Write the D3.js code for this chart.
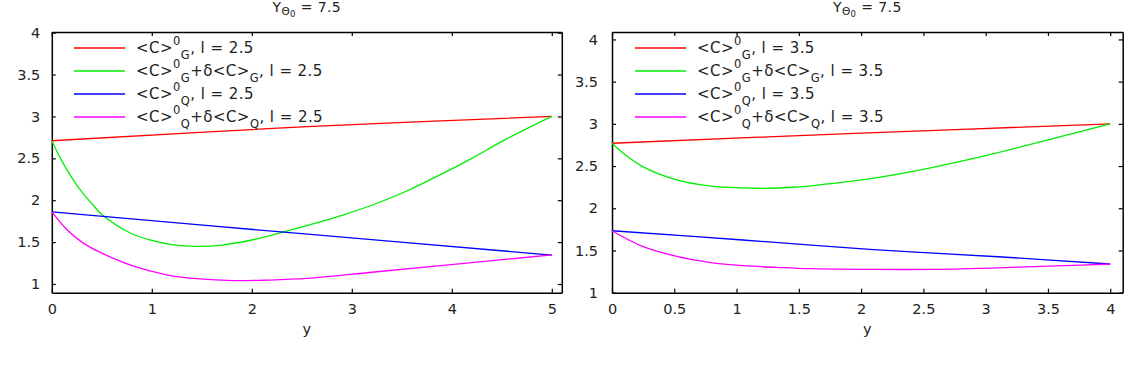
<!DOCTYPE html>
<html><head><meta charset="utf-8">
<script src="https://cdn.jsdelivr.net/npm/d3@7"></script>
<style>
body{margin:0;background:#fff}
text{font-family:"DejaVu Sans",sans-serif;fill:#222}
</style>
</head><body>
<svg id="c" width="1139" height="386"></svg>
<script>
// ---------- data: left panel (l = 2.5) ----------
const leftRedX = [0, 2.5, 5];
const leftRedY = [2.71, 2.875, 3.0];
const leftGreenX = [0, 0.1, 0.2, 0.3, 0.4, 0.5, 0.8, 1.0, 1.2, 1.45, 1.7, 2.0, 2.3, 2.53, 2.9, 3.2, 3.55, 3.86, 4.2, 4.53, 5];
const leftGreenY = [2.71, 2.47, 2.27, 2.10, 1.96, 1.83, 1.60, 1.52, 1.47, 1.45, 1.465, 1.525, 1.615, 1.69, 1.82, 1.94, 2.11, 2.29, 2.50, 2.72, 3.0];
const leftBlueX = [0, 2.5, 5];
const leftBlueY = [1.86, 1.60, 1.345];
const leftMagX = [0, 0.15, 0.3, 0.48, 0.81, 1.15, 1.48, 1.81, 2.15, 2.55, 3.2, 3.86, 4.53, 5];
const leftMagY = [1.86, 1.65, 1.50, 1.38, 1.216, 1.11, 1.06, 1.04, 1.046, 1.066, 1.14, 1.216, 1.293, 1.347];

// ---------- data: right panel (l = 3.5) ----------
const rightRedX = [0, 2, 4];
const rightRedY = [2.77, 2.89, 3.0];
const rightGreenX = [0, 0.1, 0.25, 0.52, 0.78, 1.16, 1.46, 1.73, 2.05, 2.51, 2.99, 3.5, 4];
const rightGreenY = [2.77, 2.64, 2.49, 2.336, 2.265, 2.237, 2.249, 2.288, 2.346, 2.465, 2.62, 2.81, 3.0];
const rightBlueX = [0, 1.05, 2.07, 3.1, 4];
const rightBlueY = [1.734, 1.624, 1.513, 1.426, 1.34];
const rightMagX = [0, 0.25, 0.52, 0.78, 1.05, 1.32, 1.59, 2.07, 2.56, 3.1, 3.63, 4];
const rightMagY = [1.734, 1.545, 1.43, 1.36, 1.32, 1.30, 1.284, 1.276, 1.276, 1.295, 1.32, 1.34];

// ---------- ticks / labels ----------
const leftXTicks = [0, 1, 2, 3, 4, 5];
const rightXTicks = [0, 0.5, 1, 1.5, 2, 2.5, 3, 3.5, 4];
const yTicks = [1, 1.5, 2, 2.5, 3, 3.5, 4];
const titleMain = "Y", titleSub = "Θ", titleSubSub = "0", titleRest = " = 7.5";
const xLabel = "y";
const seriesColors = ["#ff0000", "#00ee00", "#0000ff", "#ff00ff"];
const leftL = "2.5", rightL = "3.5";

const svg = d3.select("#c");

function legendText(sel, parts) {
  let shift = 0;
  parts.forEach(([t, k]) => {
    const target = k === "sup" ? -8 : (k === "sub" ? 6 : 0);
    sel.append("tspan")
      .attr("dy", target - shift)
      .attr("font-size", k === "n" ? 15 : 11.5)
      .text(t);
    shift = target;
  });
}

function panel(cfg) {
  const x = d3.scaleLinear().domain(cfg.xDomain).range([cfg.left, cfg.right]);
  const y = d3.scaleLinear().domain(cfg.yDomain).range([cfg.bottom, cfg.top]);
  const g = svg.append("g");
  const fmt = d => String(d);

  const styleAxis = a => {
    a.selectAll("path.domain").attr("stroke", "#000").attr("stroke-width", 1.5);
    a.selectAll(".tick line").attr("stroke", "#000").attr("stroke-width", 1.2);
    a.selectAll("text").attr("font-size", 14.5).attr("fill", "#222")
      .style("font-family", '"DejaVu Sans",sans-serif');
  };

  g.append("g").attr("transform", `translate(0,${cfg.bottom})`)
    .call(d3.axisBottom(x).tickValues(cfg.xTicks).tickFormat(fmt).tickSizeInner(-4).tickSizeOuter(0).tickPadding(11.5))
    .call(styleAxis);
  g.append("g").attr("transform", `translate(0,${cfg.top})`)
    .call(d3.axisTop(x).tickValues(cfg.xTicks).tickFormat("").tickSizeInner(-4).tickSizeOuter(0))
    .call(styleAxis);
  g.append("g").attr("transform", `translate(${cfg.left},0)`)
    .call(d3.axisLeft(y).tickValues(yTicks).tickFormat(fmt).tickSizeInner(-4).tickSizeOuter(0).tickPadding(cfg.yPad))
    .call(styleAxis);
  g.append("g").attr("transform", `translate(${cfg.right},0)`)
    .call(d3.axisRight(y).tickValues(yTicks).tickFormat("").tickSizeInner(-4).tickSizeOuter(0))
    .call(styleAxis);

  const line = d3.line().x(d => x(d[0])).y(d => y(d[1])).curve(d3.curveCatmullRom.alpha(0.5));
  cfg.series.forEach((s, i) => {
    const pts = s.xs.map((v, j) => [v, s.ys[j]]);
    g.append("path").attr("d", line(pts)).attr("fill", "none")
      .attr("stroke", seriesColors[i]).attr("stroke-width", 1.3);
  });

  // title
  const cx = (cfg.left + cfg.right) / 2;
  const t = g.append("text").attr("x", cx).attr("y", 12).attr("text-anchor", "middle")
    .attr("font-size", 14).attr("letter-spacing", 0.4);
  t.append("tspan").text(titleMain);
  t.append("tspan").attr("dy", 3).attr("font-size", 10.5).text(titleSub);
  t.append("tspan").attr("dy", 2).attr("font-size", 8.5).text(titleSubSub);
  t.append("tspan").attr("dy", -5).text(titleRest);

  // x label
  g.append("text").attr("x", cx).attr("y", 334).attr("text-anchor", "middle").attr("font-size", 14.5).text(xLabel);

  // legend
  const L = cfg.l;
  const labels = [
    [["<C>", "n"], ["0", "sup"], ["G", "sub"], [`, l = ${L}`, "n"]],
    [["<C>", "n"], ["0", "sup"], ["G", "sub"], ["+δ<C>", "n"], ["G", "sub"], [`, l = ${L}`, "n"]],
    [["<C>", "n"], ["0", "sup"], ["Q", "sub"], [`, l = ${L}`, "n"]],
    [["<C>", "n"], ["0", "sup"], ["Q", "sub"], ["+δ<C>", "n"], ["Q", "sub"], [`, l = ${L}`, "n"]]
  ];
  const rows = [48, 71, 94, 117];
  labels.forEach((parts, i) => {
    g.append("line").attr("x1", cfg.legX0).attr("x2", cfg.legX0 + 51)
      .attr("y1", rows[i]).attr("y2", rows[i]).attr("stroke", seriesColors[i]).attr("stroke-width", 1.3);
    const tx = g.append("text").attr("x", cfg.legX0 + 62).attr("y", rows[i] + 5.3)
      .attr("font-size", 15).attr("letter-spacing", 0.45);
    legendText(tx, parts);
  });
}

panel({
  left: 51.8, right: 561.8, top: 32, bottom: 292.7,
  xDomain: [0, 5.1], yDomain: [0.896, 4.008],
  xTicks: leftXTicks, yPad: 11.5, l: leftL, legX0: 74,
  series: [
    {xs: leftRedX, ys: leftRedY}, {xs: leftGreenX, ys: leftGreenY},
    {xs: leftBlueX, ys: leftBlueY}, {xs: leftMagX, ys: leftMagY}
  ]
});
panel({
  left: 612, right: 1122.7, top: 32, bottom: 292.7,
  xDomain: [0, 4.1], yDomain: [1, 4.088],
  xTicks: rightXTicks, yPad: 14, l: rightL, legX0: 635,
  series: [
    {xs: rightRedX, ys: rightRedY}, {xs: rightGreenX, ys: rightGreenY},
    {xs: rightBlueX, ys: rightBlueY}, {xs: rightMagX, ys: rightMagY}
  ]
});
</script>
</body></html>
